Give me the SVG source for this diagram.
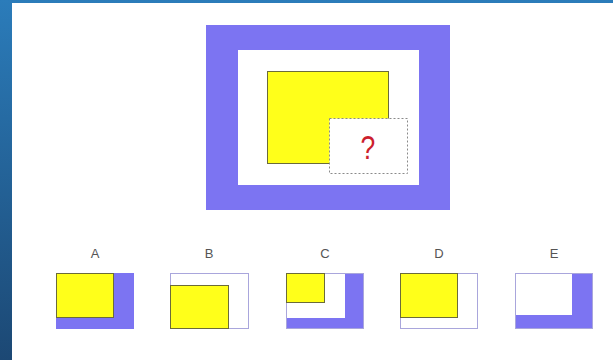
<svg xmlns="http://www.w3.org/2000/svg" width="613" height="360" viewBox="0 0 613 360">
<defs>
<linearGradient id="bg" x1="0" y1="0" x2="0" y2="1">
<stop offset="0" stop-color="#2b7cba"/>
<stop offset="1" stop-color="#1c4874"/>
</linearGradient>
</defs>
<style>
.pur{fill:#7c74f2}
.yel{fill:#ffff1a;stroke:#6b6b3a;stroke-width:1}
.frame{fill:#ffffff;stroke:#a9a6dc;stroke-width:1}
.lbl{font-family:"Liberation Sans",Arial,sans-serif;font-size:13px;fill:#555555;text-anchor:middle}
</style>
<rect x="0" y="0" width="613" height="360" fill="url(#bg)"/>
<rect x="12" y="3" width="601" height="357" fill="#ffffff"/>

<g id="main">
<rect x="206" y="25" width="244" height="185" class="pur"/>
<rect x="238" y="50" width="181" height="135" fill="#ffffff"/>
<rect x="267.5" y="71.5" width="121" height="92" class="yel"/>
<rect x="329.5" y="118.5" width="78" height="55" fill="#ffffff" stroke="#8a8a8a" stroke-width="1" stroke-dasharray="2,2"/>
<text transform="translate(368,159) scale(0.78,1)" x="0" y="0" font-family="Liberation Sans,Arial,sans-serif" font-size="34" fill="#cc1f2e" text-anchor="middle">?</text>
</g>

<g id="optA">
<text x="95" y="258" class="lbl">A</text>
<rect x="56" y="273" width="78" height="56" class="pur"/>
<rect x="56.5" y="273.5" width="57" height="44" class="yel"/>
</g>

<g id="optB">
<text x="209" y="258" class="lbl">B</text>
<rect x="170.5" y="273.5" width="78" height="55" class="frame"/>
<rect x="170.5" y="285.5" width="58" height="43" class="yel"/>
</g>

<g id="optC">
<text x="325" y="258" class="lbl">C</text>
<rect x="286" y="273" width="78" height="56" class="pur"/>
<rect x="286" y="273" width="59" height="45" fill="#ffffff"/>
<rect x="286.5" y="273.5" width="77" height="55" fill="none" stroke="#a9a6dc" stroke-width="1"/>
<rect x="286.5" y="273.5" width="38" height="29" class="yel"/>
</g>

<g id="optD">
<text x="439" y="258" class="lbl">D</text>
<rect x="400.5" y="273.5" width="77" height="55" class="frame"/>
<rect x="400.5" y="273.5" width="57" height="44" class="yel"/>
</g>

<g id="optE">
<text x="554" y="258" class="lbl">E</text>
<rect x="515" y="273" width="78" height="56" class="pur"/>
<rect x="515" y="273" width="57" height="42" fill="#ffffff"/>
<rect x="515.5" y="273.5" width="77" height="55" fill="none" stroke="#a9a6dc" stroke-width="1"/>
</g>
</svg>
